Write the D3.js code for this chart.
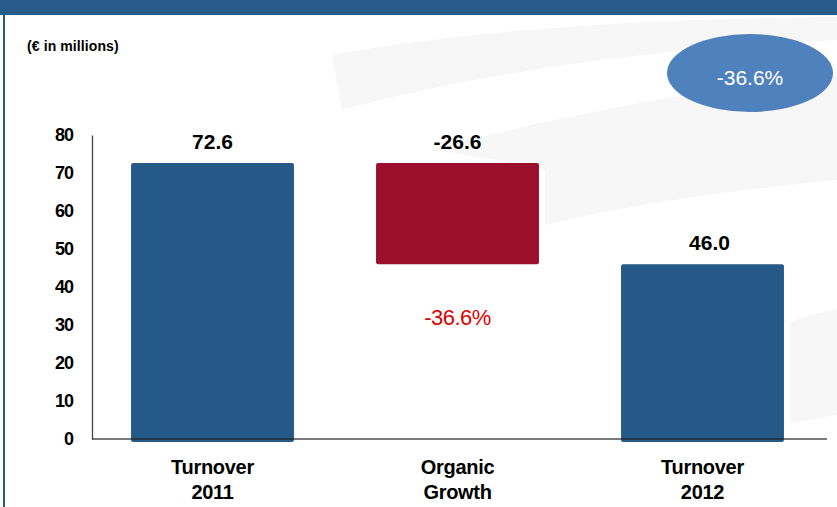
<!DOCTYPE html>
<html>
<head>
<meta charset="utf-8">
<script src="https://cdn.jsdelivr.net/npm/d3@7"></script>
<style>
  body { margin: 0; background: #fff; }
  svg { display: block; font-family: "Liberation Sans", Arial, sans-serif; }
</style>
</head>
<body>
<div id="chart"></div>
<script>
(function () {

    // chart values
    const categories = ["Turnover 2011", "Organic Growth", "Turnover 2012"]
    const categoryLines = [["Turnover", "2011"], ["Organic", "Growth"], ["Turnover", "2012"]]
    const barStarts = [0, 72.6, 0]
    const barEnds = [72.6, 46.0, 46.0]
    const valueLabels = ["72.6", "-26.6", "46.0"]
    const yTicks = [0, 10, 20, 30, 40, 50, 60, 70, 80]
    const changeLabel = "-36.6%"
    const unitLabel = "(\u20ac in millions)"

    const width = 837, height = 507
    const margin = {top: 135, right: 12, bottom: 68, left: 90}

    const svg = d3.select("#chart")
        .append("svg")
        .attr("width", width)
        .attr("height", height)

    // faint background swooshes
    const bg = svg.append("g").attr("fill", "#f7f7f7")
    bg.append("path").attr("d", "M332,55 C470,30 650,18 837,17 L837,40 C650,48 470,75 342,110 Z")
    bg.append("path").attr("d", "M430,150 C600,105 740,85 837,75 L837,180 C760,188 650,200 545,225 L545,170 C510,162 470,155 430,150 Z")
    bg.append("path").attr("d", "M790,322 C810,315 825,311 837,309 L837,415 C825,417 810,420 790,423 Z")

    // header band and left border
    svg.append("rect").attr("x", 0).attr("y", 0).attr("width", width).attr("height", 15).attr("fill", "#275c8a")
    svg.append("rect").attr("x", 3).attr("y", 0).attr("width", 2).attr("height", height).attr("fill", "#275c8a")

    svg.append("text")
        .attr("x", 27).attr("y", 51)
        .attr("font-size", 14).attr("font-weight", "bold")
        .attr("letter-spacing", 0.1)
        .attr("fill", "#000")
        .text(unitLabel)

    const x = d3.scaleBand()
        .domain(categories)
        .range([margin.left, width - margin.right])
        .paddingInner(0.335)
        .paddingOuter(0.1675)

    const y = d3.scaleLinear()
        .domain([0, 80])
        .range([height - margin.bottom, margin.top])

    // y axis
    const yAxis = svg.append("g")
        .attr("transform", "translate(92,0)")
        .call(d3.axisLeft(y).tickValues(yTicks).tickSize(0).tickPadding(19))
    yAxis.select(".domain").attr("stroke", "#444").attr("stroke-width", 1.3)
    yAxis.selectAll("text")
        .attr("font-size", 18).attr("font-weight", "bold")
        .attr("letter-spacing", -1)
        .attr("fill", "#000")
        .attr("font-family", "Liberation Sans, Arial, sans-serif")

    // bars
    const colors = ["#255a88", "#9b0f2c", "#255a88"]
    svg.append("g").selectAll("rect")
        .data(categories)
        .join("rect")
        .attr("x", d => x(d))
        .attr("width", x.bandwidth())
        .attr("y", (d, i) => y(Math.max(barStarts[i], barEnds[i])))
        .attr("height", (d, i) => {
            const lo = Math.min(barStarts[i], barEnds[i])
            return y(lo) - y(Math.max(barStarts[i], barEnds[i])) + (lo === 0 ? 3 : 0)
        })
        .attr("rx", 2)
        .attr("fill", (d, i) => colors[i])

    // x axis line
    svg.append("line")
        .attr("x1", 92).attr("x2", 827)
        .attr("y1", y(0)).attr("y2", y(0))
        .attr("stroke", "#222").attr("stroke-opacity", 0.6).attr("stroke-width", 2)

    // value labels
    svg.append("g").selectAll("text")
        .data(categories)
        .join("text")
        .attr("x", (d, i) => x(d) + x.bandwidth() / 2 + (i === 2 ? 7 : 0))
        .attr("y", (d, i) => y(Math.max(barStarts[i], barEnds[i])) - 14)
        .attr("text-anchor", "middle")
        .attr("font-size", 21).attr("font-weight", "bold")
        .attr("fill", "#000")
        .text((d, i) => valueLabels[i])

    // change label under the growth bar
    svg.append("text")
        .attr("x", x(categories[1]) + x.bandwidth() / 2)
        .attr("y", y(29.9))
        .attr("text-anchor", "middle")
        .attr("font-size", 22)
        .attr("letter-spacing", -0.5)
        .attr("fill", "#e00000")
        .text(changeLabel)

    // category labels
    const cat = svg.append("g").selectAll("text")
        .data(categories)
        .join("text")
        .attr("text-anchor", "middle")
        .attr("font-size", 20).attr("font-weight", "bold")
        .attr("letter-spacing", -0.3)
        .attr("fill", "#000")
    cat.each(function (d, i) {
        const t = d3.select(this)
        categoryLines[i].forEach((line, j) => {
            t.append("tspan")
                .attr("x", x(d) + x.bandwidth() / 2)
                .attr("y", 474 + j * 25)
                .text(line)
        })
    })

    // bubble with total change
    svg.append("ellipse")
        .attr("cx", 750).attr("cy", 73)
        .attr("rx", 83).attr("ry", 39)
        .attr("fill", "#4f81bd")
    svg.append("text")
        .attr("x", 750).attr("y", 85)
        .attr("text-anchor", "middle")
        .attr("font-size", 21)
        .attr("fill", "#fff")
        .text(changeLabel)

})()
</script>
</body>
</html>
